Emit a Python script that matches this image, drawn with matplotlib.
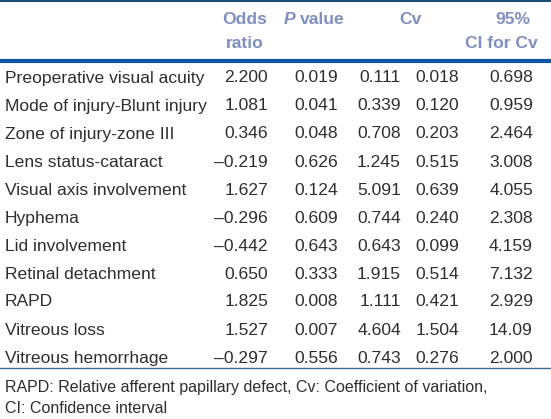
import matplotlib
matplotlib.use("Agg")
import matplotlib.pyplot as plt
from matplotlib.lines import Line2D

variables = ["Preoperative visual acuity", "Mode of injury-Blunt injury", "Zone of injury-zone III",
             "Lens status-cataract", "Visual axis involvement", "Hyphema", "Lid involvement",
             "Retinal detachment", "RAPD", "Vitreous loss", "Vitreous hemorrhage"]
odds_ratio = ["2.200", "1.081", "0.346", "\u20130.219", "1.627", "\u20130.296", "\u20130.442",
              "0.650", "1.825", "1.527", "\u20130.297"]
p_value = ["0.019", "0.041", "0.048", "0.626", "0.124", "0.609", "0.643", "0.333", "0.008", "0.007", "0.556"]
cv_a = ["0.111", "0.339", "0.708", "1.245", "5.091", "0.744", "0.643", "1.915", "1.111", "4.604", "0.743"]
cv_b = ["0.018", "0.120", "0.203", "0.515", "0.639", "0.240", "0.099", "0.514", "0.421", "1.504", "0.276"]
ci_cv = ["0.698", "0.959", "2.464", "3.008", "4.055", "2.308", "4.159", "7.132", "2.929", "14.09", "2.000"]
footnote = ["RAPD: Relative afferent papillary defect, Cv: Coefficient of variation,",
            "CI: Confidence interval"]

W, H = 551, 419
fig = plt.figure(figsize=(W / 100, H / 100), dpi=100)
fig.patch.set_facecolor("white")
FONT = "Liberation Sans"
FS = 12.6
HDR = "#7f8fc0"
TXT = "#2e2e2e"

def T(x, y, s, ha="left", **kw):
    kw.setdefault("color", TXT)
    kw.setdefault("fontsize", FS)
    fig.text(x / W, 1 - y / H, s, ha=ha, va="center", family=FONT, **kw)

def hline(y, lw, color):
    fig.add_artist(Line2D([0, 1], [1 - y / H, 1 - y / H], lw=lw, color=color,
                          transform=fig.transFigure))

hline(1, 1.5, "#1d4f73")
hline(61, 3.0, "#0b57a2")
hline(368, 1.0, "#3b6a90")

# header
T(245, 19, "Odds", ha="center", color=HDR, weight="bold")
T(245, 43, "ratio", ha="center", color=HDR, weight="bold")
T(284, 19, "P", color=HDR, weight="bold", style="italic")
T(300, 19, "value", color=HDR, weight="bold")
T(410, 19, "Cv", ha="center", color=HDR, weight="bold")
T(513, 19, "95%", ha="center", color=HDR, weight="bold")
T(501, 43, "CI for Cv", ha="center", color=HDR, weight="bold")

y0, dy = 78, 28
for i in range(len(variables)):
    y = y0 + dy * i
    T(5, y, variables[i])
    T(268, y, odds_ratio[i], ha="right")
    T(338, y, p_value[i], ha="right")
    T(401, y, cv_a[i], ha="right")
    T(459, y, cv_b[i], ha="right")
    T(533, y, ci_cv[i], ha="right")

T(5, 387, footnote[0], fontsize=11.5)
T(5, 408, footnote[1], fontsize=11.5)

fig.savefig("out.png", dpi=100)
